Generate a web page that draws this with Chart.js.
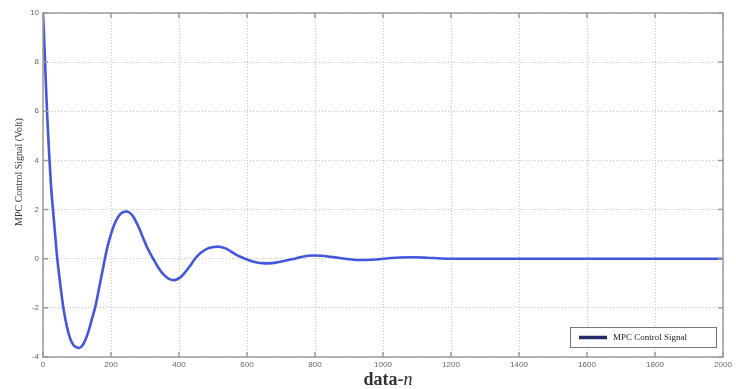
<!DOCTYPE html>
<html>
<head>
<meta charset="utf-8">
<script src="https://cdn.jsdelivr.net/npm/chart.js@4"></script>
<style>
html,body{margin:0;padding:0;background:#fff;}
#wrap{width:736px;height:389px;position:relative;}
</style>
</head>
<body>
<div id="wrap"><canvas id="c" width="736" height="389"></canvas></div>
<script>
const sampleN = [0,3,6,10,15,20,25,30,35,42,50,60,70,80,90,98,106,115,125,135,145,153,160,167,175,182,190,200,210,220,230,244,255,265,277,290,305,324,340,355,370,388,405,420,435,447,465,485,500,518,535,550,565,580,594,610,630,645,663,685,705,725,741,760,780,795,820,845,873,900,923,950,980,1010,1050,1090,1130,1170,1220,1500,2000];
const controlSignal = [10.0,9.1,8.0,6.6,5.1,3.8,2.7,1.9,1.1,0,-0.95,-2.0,-2.75,-3.25,-3.52,-3.6,-3.63,-3.55,-3.3,-2.9,-2.4,-2.0,-1.55,-1.05,-0.5,0,0.5,1.0,1.4,1.68,1.85,1.92,1.87,1.72,1.42,1.0,0.5,0,-0.38,-0.65,-0.82,-0.87,-0.75,-0.52,-0.25,0,0.25,0.42,0.47,0.49,0.43,0.32,0.19,0.08,0,-0.08,-0.15,-0.18,-0.19,-0.16,-0.1,-0.04,0,0.07,0.12,0.13,0.12,0.08,0.03,-0.02,-0.05,-0.05,-0.03,0.01,0.05,0.06,0.04,0.01,0,0,0];
const xTicks = [0,200,400,600,800,1000,1200,1400,1600,1800,2000];
const yTicks = [-4,-2,0,2,4,6,8,10];
const seriesLabel = 'MPC Control Signal';
const xTitle = 'data-';
const xTitleItalic = 'n';
const yTitle = 'MPC Control Signal (Volt)';

const pts = sampleN.map((n,i)=>({x:n,y:controlSignal[i]}));

const framePlugin = {
  id:'frame',
  afterDraw(chart){
    const {ctx, chartArea:a, scales:{x,y}} = chart;
    ctx.save();
    ctx.strokeStyle='#9a9a9a';
    ctx.lineWidth=1.5;
    ctx.strokeRect(a.left, a.top, a.right-a.left, a.bottom-a.top);
    xTicks.forEach(t=>{
      const px = x.getPixelForValue(t);
      ctx.beginPath();
      ctx.moveTo(px,a.bottom);ctx.lineTo(px,a.bottom-5);
      ctx.moveTo(px,a.top);ctx.lineTo(px,a.top+5);
      ctx.stroke();
    });
    yTicks.forEach(t=>{
      const py = y.getPixelForValue(t);
      ctx.beginPath();
      ctx.moveTo(a.left,py);ctx.lineTo(a.left+5,py);
      ctx.moveTo(a.right,py);ctx.lineTo(a.right-5,py);
      ctx.stroke();
    });
    // legend
    const lx=570, ly=327, lw=146, lh=20;
    ctx.fillStyle='#fff';
    ctx.fillRect(lx,ly,lw,lh);
    ctx.strokeStyle='#777';
    ctx.lineWidth=1;
    ctx.strokeRect(lx+0.5,ly+0.5,lw,lh);
    ctx.strokeStyle='#262a66';
    ctx.lineWidth=3.5;
    ctx.beginPath();ctx.moveTo(579,ly+lh/2+0.5);ctx.lineTo(607,ly+lh/2+0.5);ctx.stroke();
    ctx.fillStyle='#222';
    ctx.font='9px "Liberation Serif", "DejaVu Serif", serif';
    ctx.textBaseline='middle';
    ctx.textAlign='left';
    ctx.fillText(seriesLabel, 613, ly+lh/2+1);
    // titles
    ctx.fillStyle='#333';
    ctx.textBaseline='alphabetic';
    ctx.font='bold 18px "Liberation Serif", "DejaVu Serif", serif';
    const w1 = ctx.measureText(xTitle).width;
    ctx.font='italic 18px "Liberation Serif", "DejaVu Serif", serif';
    const w2 = ctx.measureText(xTitleItalic).width;
    const sx = 388 - (w1+w2)/2;
    ctx.font='bold 18px "Liberation Serif", "DejaVu Serif", serif';
    ctx.fillText(xTitle, sx, 385);
    ctx.font='italic 18px "Liberation Serif", "DejaVu Serif", serif';
    ctx.fillText(xTitleItalic, sx+w1, 385);
    ctx.save();
    ctx.translate(19, 172);
    ctx.rotate(-Math.PI/2);
    ctx.textAlign='center';
    ctx.textBaseline='middle';
    ctx.font='10px "Liberation Serif", "DejaVu Serif", serif';
    ctx.fillStyle='#333';
    ctx.fillText(yTitle,0,0);
    ctx.restore();
    ctx.restore();
  }
};

new Chart(document.getElementById('c'), {
  type:'line',
  data:{datasets:[
    {label:seriesLabel, data:pts, borderColor:'#4357dc', borderWidth:2.6, pointRadius:0, tension:0.35, fill:false},
    {label:seriesLabel+' overlay', data:pts, borderColor:'#2a2e6e', borderWidth:1, borderDash:[2,3], pointRadius:0, tension:0.35, fill:false}
  ]},
  options:{
    responsive:false, animation:false,
    layout:{padding:{top:13,right:13,left:0,bottom:0}},
    plugins:{legend:{display:false}, tooltip:{enabled:false}},
    scales:{
      x:{type:'linear', min:0, max:2000,
        afterBuildTicks(s){s.ticks = xTicks.map(v=>({value:v}));},
        afterFit(s){s.height=32;},
        grid:{color:'#c8c8c8', lineWidth:1, drawTicks:false},
        border:{display:false, dash:[1,2]},
        ticks:{color:'#666', font:{size:8, family:'"Liberation Sans", Arial, sans-serif'}, padding:3, maxRotation:0, autoSkip:false, callback:v=>String(v)}
      },
      y:{type:'linear', min:-4, max:10,
        afterBuildTicks(s){s.ticks = yTicks.map(v=>({value:v}));},
        afterFit(s){s.width=43;},
        grid:{color:'#c8c8c8', lineWidth:1, drawTicks:false},
        border:{display:false, dash:[1,2]},
        ticks:{color:'#666', font:{size:8, family:'"Liberation Sans", Arial, sans-serif'}, padding:4, autoSkip:false, callback:v=>String(v)}
      }
    }
  },
  plugins:[framePlugin]
});
</script>
</body>
</html>
